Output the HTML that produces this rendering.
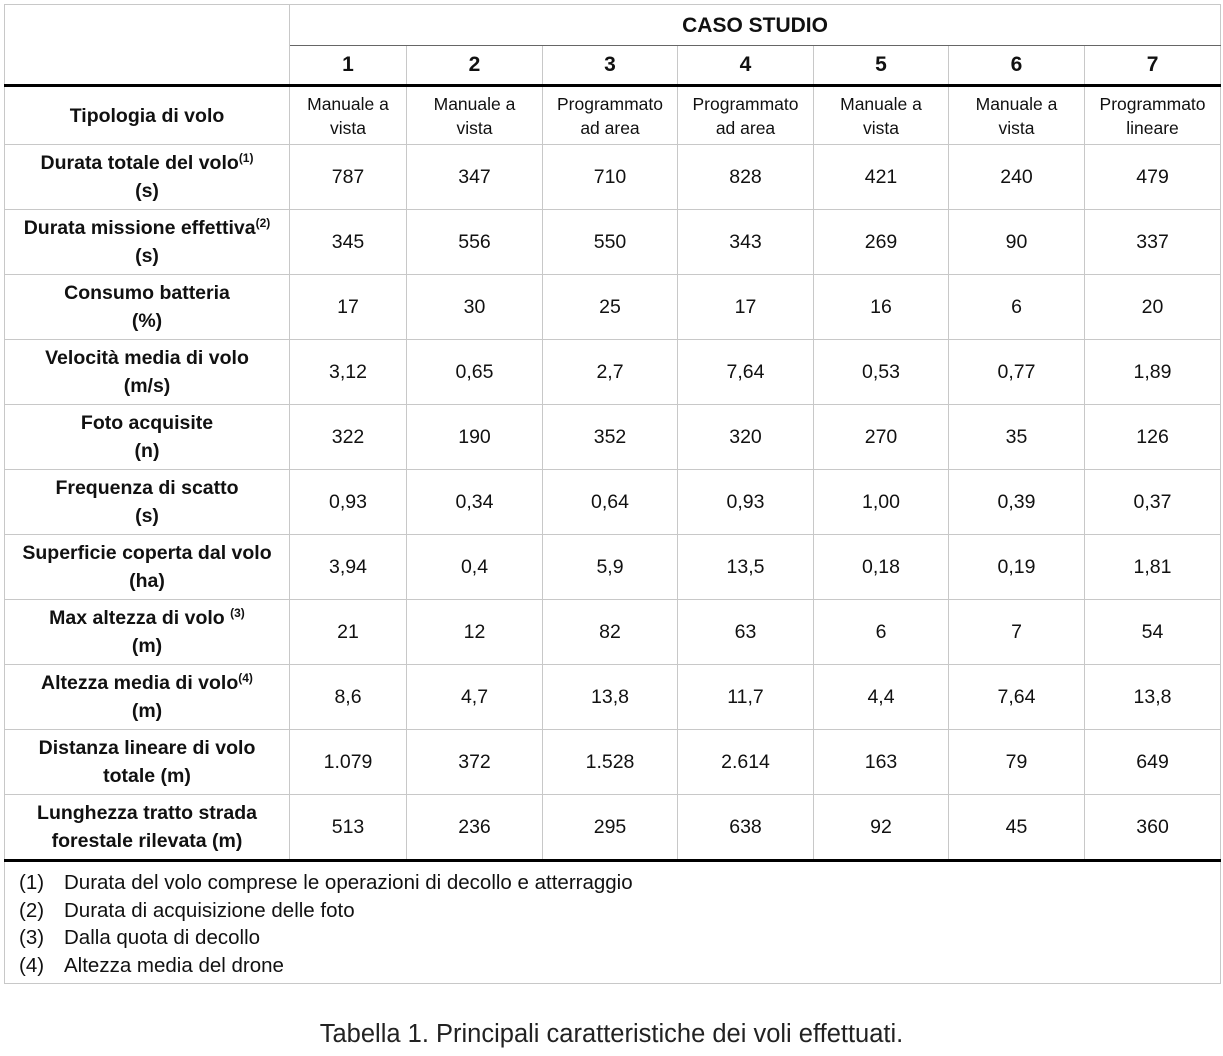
<!DOCTYPE html>
<html><head><meta charset="utf-8"><style>
body{margin:0;background:#fff;width:1223px;height:1056px;position:relative;font-family:"Liberation Sans",sans-serif;color:#111;}
table{position:absolute;left:4px;top:4px;border-collapse:collapse;table-layout:fixed;width:1216px;}
td{border:1px solid #c8c8c8;text-align:center;vertical-align:middle;padding:0;font-size:19.5px;line-height:27px;}
td.h{font-weight:bold;font-size:19.5px;line-height:28px;}
tr.d td{height:64px;}
td.t{font-size:17.5px;line-height:24px;}
sup{font-size:12px;vertical-align:7px;line-height:0;}
.thick td{border-bottom:3px solid #000;}
.fn{text-align:left;vertical-align:top;padding:7px 0 0 14px;font-size:20.5px;line-height:27.5px;}
.fn span{display:inline-block;width:45px;}
.cap{position:absolute;top:1020px;left:0;width:1223px;text-align:center;font-size:25.5px;color:#222;}
</style></head><body>
<table>
<colgroup><col style="width:285px"><col style="width:117px"><col style="width:136px"><col style="width:135px"><col style="width:136px"><col style="width:135px"><col style="width:136px"><col style="width:136px"></colgroup>
<tr><td rowspan="2" style="border-bottom:3px solid #000;height:78px"></td><td colspan="7" class="h" style="height:38px;font-size:21px;padding-top:2px;border-bottom:1px solid #666">CASO STUDIO</td></tr>
<tr class="thick"><td class="h" style="height:38px;font-size:21px">1</td><td class="h" style="font-size:21px">2</td><td class="h" style="font-size:21px">3</td><td class="h" style="font-size:21px">4</td><td class="h" style="font-size:21px">5</td><td class="h" style="font-size:21px">6</td><td class="h" style="font-size:21px">7</td></tr>
<tr><td class="h" style="height:57px">Tipologia di volo</td><td class="t">Manuale a<br>vista</td><td class="t">Manuale a<br>vista</td><td class="t">Programmato<br>ad area</td><td class="t">Programmato<br>ad area</td><td class="t">Manuale a<br>vista</td><td class="t">Manuale a<br>vista</td><td class="t">Programmato<br>lineare</td></tr>
<tr class="d"><td class="h">Durata totale del volo<sup>(1)</sup><br>(s)</td><td>787</td><td>347</td><td>710</td><td>828</td><td>421</td><td>240</td><td>479</td></tr>
<tr class="d"><td class="h">Durata missione effettiva<sup>(2)</sup><br>(s)</td><td>345</td><td>556</td><td>550</td><td>343</td><td>269</td><td>90</td><td>337</td></tr>
<tr class="d"><td class="h">Consumo batteria<br>(%)</td><td>17</td><td>30</td><td>25</td><td>17</td><td>16</td><td>6</td><td>20</td></tr>
<tr class="d"><td class="h">Velocità media di volo<br>(m/s)</td><td>3,12</td><td>0,65</td><td>2,7</td><td>7,64</td><td>0,53</td><td>0,77</td><td>1,89</td></tr>
<tr class="d"><td class="h">Foto acquisite<br>(n)</td><td>322</td><td>190</td><td>352</td><td>320</td><td>270</td><td>35</td><td>126</td></tr>
<tr class="d"><td class="h">Frequenza di scatto<br>(s)</td><td>0,93</td><td>0,34</td><td>0,64</td><td>0,93</td><td>1,00</td><td>0,39</td><td>0,37</td></tr>
<tr class="d"><td class="h">Superficie coperta dal volo<br>(ha)</td><td>3,94</td><td>0,4</td><td>5,9</td><td>13,5</td><td>0,18</td><td>0,19</td><td>1,81</td></tr>
<tr class="d"><td class="h">Max altezza di volo <sup>(3)</sup><br>(m)</td><td>21</td><td>12</td><td>82</td><td>63</td><td>6</td><td>7</td><td>54</td></tr>
<tr class="d"><td class="h">Altezza media di volo<sup>(4)</sup><br>(m)</td><td>8,6</td><td>4,7</td><td>13,8</td><td>11,7</td><td>4,4</td><td>7,64</td><td>13,8</td></tr>
<tr class="d"><td class="h">Distanza lineare di volo<br>totale (m)</td><td>1.079</td><td>372</td><td>1.528</td><td>2.614</td><td>163</td><td>79</td><td>649</td></tr>
<tr class="d thick"><td class="h">Lunghezza tratto strada<br>forestale rilevata (m)</td><td>513</td><td>236</td><td>295</td><td>638</td><td>92</td><td>45</td><td>360</td></tr>
<tr><td colspan="8" class="fn" style="height:114px"><span>(1)</span>Durata del volo comprese le operazioni di decollo e atterraggio<br><span>(2)</span>Durata di acquisizione delle foto<br><span>(3)</span>Dalla quota di decollo<br><span>(4)</span>Altezza media del drone</td></tr>
</table>
<div class="cap">Tabella 1. Principali caratteristiche dei voli effettuati.</div>
</body></html>
